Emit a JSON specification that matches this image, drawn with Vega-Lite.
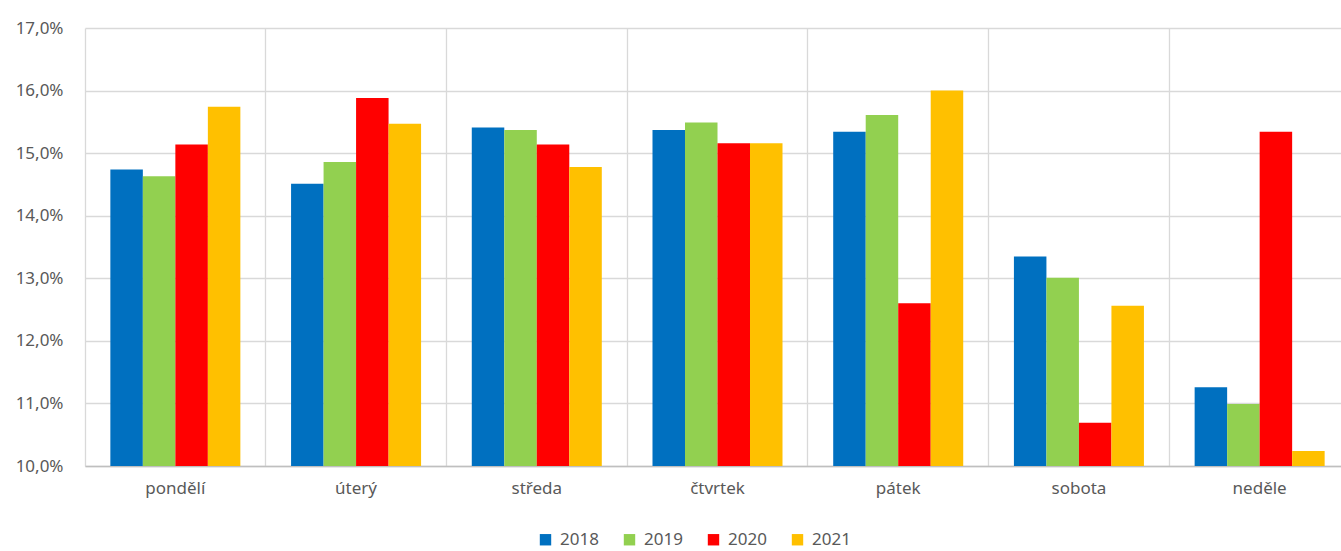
{
  "$schema": "https://vega.github.io/schema/vega-lite/v6.json",
  "autosize": "none",
  "width": 1265,
  "height": 438,
  "padding": {"left": 85, "top": 28, "right": 0, "bottom": 85},
  "background": "white",
  "config": {
    "font": "Noto Sans",
    "view": {"stroke": null},
    "axis": {"labelColor": "#595959", "labelFontSize": 17, "gridColor": "#d9d9d9", "gridWidth": 1.3}
  },
  "data": {
    "values": [
      {"den": "pondělí", "rok": "2018", "podil": 14.74},
      {"den": "pondělí", "rok": "2019", "podil": 14.63},
      {"den": "pondělí", "rok": "2020", "podil": 15.14},
      {"den": "pondělí", "rok": "2021", "podil": 15.74},
      {"den": "úterý", "rok": "2018", "podil": 14.51},
      {"den": "úterý", "rok": "2019", "podil": 14.86},
      {"den": "úterý", "rok": "2020", "podil": 15.88},
      {"den": "úterý", "rok": "2021", "podil": 15.47},
      {"den": "středa", "rok": "2018", "podil": 15.41},
      {"den": "středa", "rok": "2019", "podil": 15.37},
      {"den": "středa", "rok": "2020", "podil": 15.14},
      {"den": "středa", "rok": "2021", "podil": 14.78},
      {"den": "čtvrtek", "rok": "2018", "podil": 15.37},
      {"den": "čtvrtek", "rok": "2019", "podil": 15.49},
      {"den": "čtvrtek", "rok": "2020", "podil": 15.16},
      {"den": "čtvrtek", "rok": "2021", "podil": 15.16},
      {"den": "pátek", "rok": "2018", "podil": 15.34},
      {"den": "pátek", "rok": "2019", "podil": 15.61},
      {"den": "pátek", "rok": "2020", "podil": 12.6},
      {"den": "pátek", "rok": "2021", "podil": 16.0},
      {"den": "sobota", "rok": "2018", "podil": 13.35},
      {"den": "sobota", "rok": "2019", "podil": 13.01},
      {"den": "sobota", "rok": "2020", "podil": 10.69},
      {"den": "sobota", "rok": "2021", "podil": 12.56},
      {"den": "neděle", "rok": "2018", "podil": 11.26},
      {"den": "neděle", "rok": "2019", "podil": 10.99},
      {"den": "neděle", "rok": "2020", "podil": 15.34},
      {"den": "neděle", "rok": "2021", "podil": 10.24}
    ]
  },
  "mark": {"type": "bar", "clip": true},
  "encoding": {
    "x": {
      "field": "den",
      "type": "nominal",
      "sort": ["pondělí", "úterý", "středa", "čtvrtek", "pátek", "sobota", "neděle"],
      "scale": {"paddingInner": 0, "paddingOuter": 0},
      "axis": {
        "title": null,
        "labelAngle": 0,
        "grid": true,
        "bandPosition": 0,
        "ticks": false,
        "labelPadding": 22,
        "domainColor": "#bfbfbf",
        "domainWidth": 1.3,
        "labelBaseline": "middle"
      }
    },
    "xOffset": {
      "field": "rok",
      "type": "nominal",
      "scale": {"paddingInner": 0, "paddingOuter": 0.78}
    },
    "y": {
      "field": "podil",
      "type": "quantitative",
      "scale": {"domain": [10, 17], "zero": false, "nice": false},
      "axis": {
        "title": null,
        "values": [10, 11, 12, 13, 14, 15, 16, 17],
        "labelExpr": "replace(format(datum.value, '.1f'), '.', ',') + '%'",
        "domain": false,
        "ticks": false,
        "labelPadding": 22
      }
    },
    "color": {
      "field": "rok",
      "type": "nominal",
      "scale": {"domain": ["2018", "2019", "2020", "2021"], "range": ["#0070C0", "#92D050", "#FF0000", "#FFC000"]},
      "legend": {
        "title": null,
        "orient": "none",
        "direction": "horizontal",
        "legendX": 452,
        "legendY": 503,
        "symbolType": "square",
        "symbolSize": 130,
        "symbolStrokeWidth": 0,
        "labelFontSize": 17,
        "labelColor": "#595959",
        "labelOffset": 6,
        "columnPadding": 22
      }
    }
  }
}
